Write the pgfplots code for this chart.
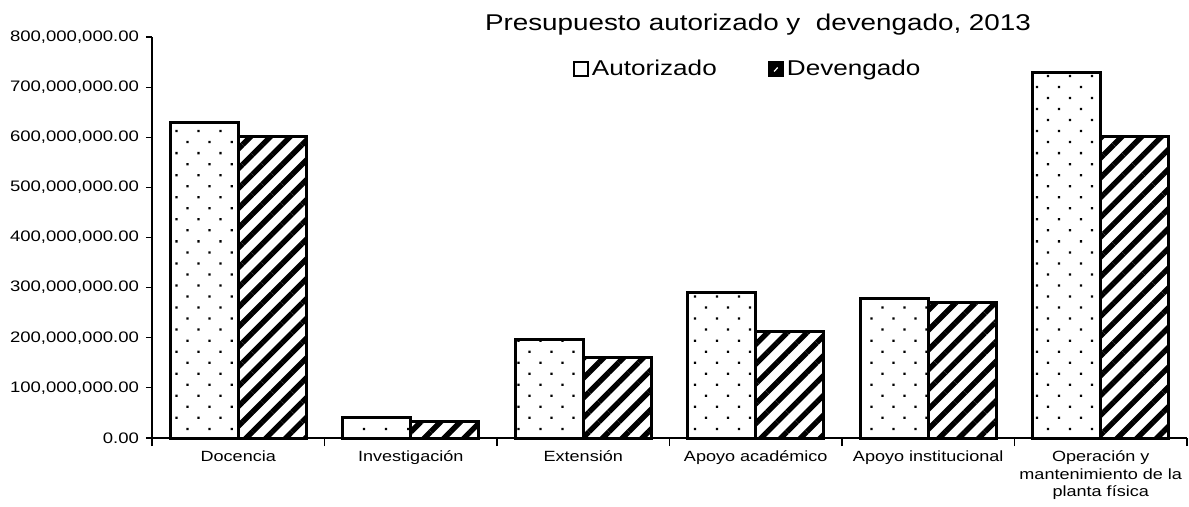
\documentclass[border=0pt]{standalone}
\usepackage{fontspec}
\setmainfont{Liberation Sans}[FakeStretch=1.22]
\usepackage{pgfplots}
\pgfplotsset{compat=1.18}
\usetikzlibrary{patterns.meta}

\begin{document}
\begin{tikzpicture}
\begin{axis}[
  scale only axis,
  width=517.5pt, height=200.5pt,
  clip=false,
  ybar=0pt, bar width=34pt,
  xmin=-0.5, xmax=5.5,
  ymin=0, ymax=800000000,
  axis x line*=bottom, axis y line*=left,
  axis line style={line width=0.6pt},
  tick align=outside,
  tick style={black, line width=0.6pt},
  xtick={0,1,2,3,4,5},
  major x tick style={draw=none},
  minor xtick={-0.5,0.5,1.5,2.5,3.5,4.5,5.5},
  minor tick length=4pt,
  major tick length=3pt,
  xticklabels={Docencia, Investigación, Extensión, Apoyo académico, Apoyo institucional, {Operación y\\mantenimiento de la\\planta física}},
  xticklabel style={font=\fontsize{7.4}{8.6}\selectfont, align=center},
  ytick={0,100000000,200000000,300000000,400000000,500000000,600000000,700000000,800000000},
  yticklabels={0.00, {100,000,000.00}, {200,000,000.00}, {300,000,000.00}, {400,000,000.00}, {500,000,000.00}, {600,000,000.00}, {700,000,000.00}, {800,000,000.00}},
  yticklabel style={font=\fontsize{7.6}{8.8}\selectfont},
  scaled y ticks=false,
  legend style={at={(0.576,0.92)}, anchor=center, draw=none, fill=none,
    font=\fontsize{10.7}{12}\selectfont,
    /tikz/every even column/.append style={column sep=24pt},
    /tikz/every node/.append style={inner sep=1.5pt}},
  legend columns=2,
]
\addplot[draw=black, line width=1.5pt, pattern={Dots[radius=0.8pt, distance=7.8pt, angle=45]},
  legend image code/.code={\draw[black, fill=white, line width=1.1pt] (0pt,-3.5pt) rectangle (7pt,3.5pt);}]
  coordinates {(0,630000000) (1,40000000) (2,197000000) (3,291000000) (4,279000000) (5,730000000)};
\addplot[draw=black, line width=1.5pt, pattern={Lines[angle=45, distance=7pt, line width=2.7pt]},
  legend image code/.code={\draw[black, fill=black, line width=1.1pt] (0pt,-3.5pt) rectangle (7pt,3.5pt);
    \draw[white, line width=0.6pt] (2.6pt,-1.2pt) -- (4.4pt,0.8pt);}]
  coordinates {(0,602000000) (1,32000000) (2,161000000) (3,213000000) (4,271000000) (5,602000000)};
\legend{Autorizado, Devengado}
\node[font=\fontsize{11.4}{13}\selectfont] at (axis description cs:0.5855,1.03) {Presupuesto autorizado y\ \ devengado, 2013};
\end{axis}
\path (-76pt,-34pt) rectangle (518.5pt,219pt);
\end{tikzpicture}
\end{document}
